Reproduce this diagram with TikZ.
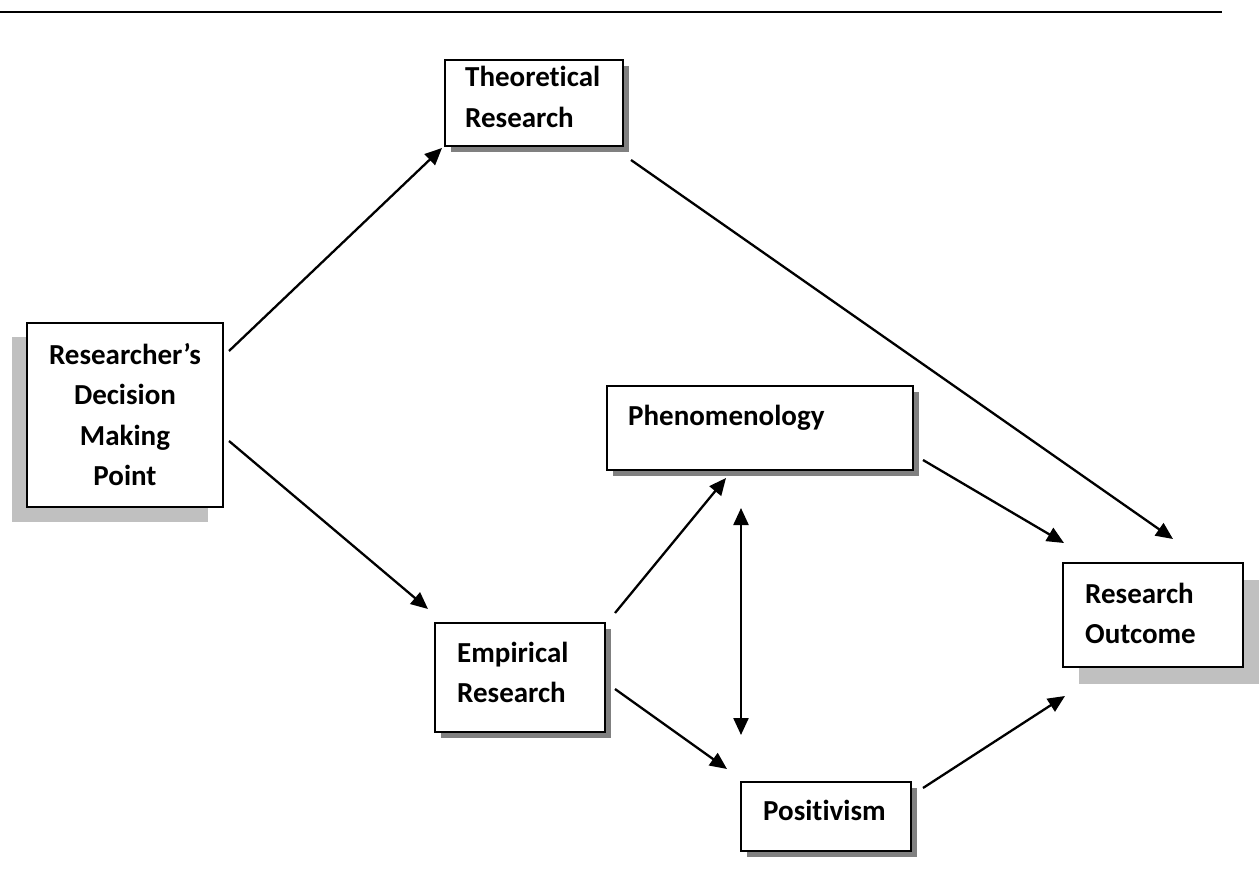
\documentclass[tikz,border=0pt]{standalone}
\usepackage{fontspec}
\setmainfont[Ligatures={NoCommon}]{Carlito}
\usetikzlibrary{arrows.meta,shadows}
\definecolor{shadowdark}{HTML}{808080}
\definecolor{shadowlight}{HTML}{C0C0C0}
\begin{document}
\begin{tikzpicture}[x=1pt,y=-1pt,
  box/.style={draw=black,line width=2pt,fill=white,rectangle,inner sep=0pt,outer sep=0pt},
  darkshadow/.style={general shadow={fill=shadowdark,shadow xshift=6pt,shadow yshift=-6pt}},
  lbl/.style={inner sep=0pt,font=\fontsize{29}{35}\selectfont\bfseries},
  link/.style={line width=2.3pt,-{Triangle[length=17pt,width=15pt]}},
  both/.style={line width=2.3pt,{Triangle[length=17pt,width=15pt]}-{Triangle[length=17pt,width=15pt]}}
]
\useasboundingbox (0,0) rectangle (1259,893);

% rule across the top
\draw[line width=2.5pt] (0,12) -- (1222,12);

% boxes
\node[box,darkshadow,minimum width=178pt,minimum height=86pt] (theo) at (534,103) {};
\node[box,general shadow={fill=shadowlight,shadow xshift=-15.5pt,shadow yshift=-14.5pt},
      minimum width=196pt,minimum height=184pt] (rdm) at (125,415) {};
\node[box,darkshadow,minimum width=306pt,minimum height=84pt] (phen) at (760,428) {};
\node[box,darkshadow,minimum width=170pt,minimum height=109pt] (emp) at (520,677.5) {};
\node[box,darkshadow,minimum width=170pt,minimum height=69pt] (pos) at (826,816.5) {};
\node[box,general shadow={fill=shadowlight,shadow xshift=16pt,shadow yshift=-16.5pt},
      minimum width=180pt,minimum height=104pt] (out) at (1153,615) {};

% labels
\node[lbl,anchor=base west] (theoA) at (465,87) {Theoretical};
\node[lbl,anchor=base west] (theoB) at (465,128) {Research};
\node[lbl,anchor=base] (rdmA) at (125,365) {Researcher’s};
\node[lbl,anchor=base] (rdmB) at (125,405) {Decision};
\node[lbl,anchor=base] (rdmC) at (125,445) {Making};
\node[lbl,anchor=base] (rdmD) at (125,485) {Point};
\node[lbl,anchor=base west] (phenA) at (628,425) {Phenomenology};
\node[lbl,anchor=base west] (empA) at (457,662) {Empirical};
\node[lbl,anchor=base west] (empB) at (457,702) {Research};
\node[lbl,anchor=base west] (posA) at (763,820) {Positivism};
\node[lbl,anchor=base west] (outA) at (1085,603) {Research};
\node[lbl,anchor=base west] (outB) at (1085,643) {Outcome};

% connectors
\draw[link] ([shift={(6,28)}]rdm.north east) -- ([shift={(-3,2)}]theo.south west);
\draw[link] ([shift={(6,26)}]rdm.east) -- ([shift={(-7,-14)}]emp.north west);
\draw[link] ([shift={(8,14)}]theo.south east) -- ([shift={(20,-24)}]out.north);
\draw[link] ([shift={(10,-10)}]phen.south east) -- ([shift={(1,-20)}]out.north west);
\draw[link] ([shift={(10,-10)}]emp.north east) -- ([shift={(-34,8)}]phen.south);
\draw[link] ([shift={(10,11.5)}]emp.east) -- ([shift={(-14,-13)}]pos.north west);
\draw[link] ([shift={(12,-28.5)}]pos.east) -- ([shift={(2,29)}]out.south west);
\draw[both] ([shift={(-19,38)}]phen.south) -- ([shift={(-85,-47)}]pos.north);
\end{tikzpicture}
\end{document}
